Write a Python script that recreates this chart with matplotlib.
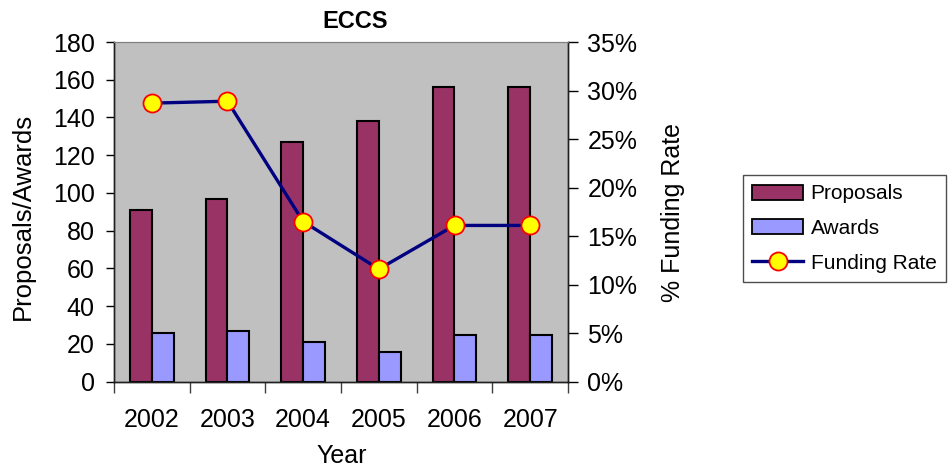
import matplotlib
matplotlib.use("Agg")
import matplotlib.pyplot as plt
import numpy as np
from matplotlib.ticker import FuncFormatter, FixedLocator
from matplotlib.lines import Line2D
from matplotlib.patches import Patch

plt.rcParams['font.family'] = ['Liberation Sans', 'DejaVu Sans']

years = ["2002", "2003", "2004", "2005", "2006", "2007"]
proposals = [91, 97, 127, 138, 156, 156]
awards = [26, 27, 21, 16, 25, 25]
funding_rate = [28.7, 28.9, 16.5, 11.6, 16.1, 16.1]

W, H = 953, 471
fig = plt.figure(figsize=(W / 100, H / 100), dpi=100)
L, R, T, B = 114, 568, 42, 381.7
ax = fig.add_axes([L / W, 1 - B / H, (R - L) / W, (B - T) / H])
ax.set_facecolor("#C0C0C0")

x = np.arange(len(years))
bw = 0.29
ax.bar(x - bw / 2, proposals, bw, color="#993366", edgecolor="black", linewidth=1.5, zorder=2)
ax.bar(x + bw / 2, awards, bw, color="#9999FF", edgecolor="black", linewidth=1.5, zorder=2)
ax.set_xlim(-0.5, len(years) - 0.5)
ax.set_ylim(0, 180)
ax.set_yticks(np.arange(0, 181, 20))
ax.set_xticks(x)
ax.set_xticklabels(years)
ax.xaxis.set_minor_locator(FixedLocator(np.arange(-0.5, len(years), 1.0)))
ax.tick_params(axis="x", which="major", length=0, pad=19, labelsize=18)
ax.tick_params(axis="x", which="minor", length=8, width=1, direction="out", color="#404040")
ax.tick_params(axis="y", length=6, width=1, direction="out", pad=8, labelsize=18)

ax2 = ax.twinx()
ax2.plot(x, funding_rate, color="#000080", linewidth=2.4, marker="o", markersize=13,
         markerfacecolor="#FFFF00", markeredgecolor="#FF0000", markeredgewidth=1.3, zorder=3)
ax2.set_ylim(0, 35)
ax2.set_yticks(np.arange(0, 36, 5))
ax2.yaxis.set_major_formatter(FuncFormatter(lambda v, p: f"{int(round(v))}%"))
ax2.tick_params(axis="y", length=7, width=1, direction="out", pad=7, labelsize=18)

for a in (ax, ax2):
    a.spines["top"].set_color("#808080")
    for s in ("left", "right", "bottom"):
        a.spines[s].set_color("#202020")
        a.spines[s].set_linewidth(1.0)

fig.text(355 / W, 1 - 21.7 / H, "ECCS", ha="center", va="center", fontsize=17, fontweight="bold")
fig.text(23 / W, 1 - 216 / H, "Proposals/Awards", rotation=90, ha="center", va="center", fontsize=18.5)
fig.text(673 / W, 1 - 212 / H, "% Funding Rate", rotation=90, ha="center", va="center", fontsize=18)
fig.text(342 / W, 1 - 463 / H, "Year", ha="center", va="baseline", fontsize=18)

handles = [
    Patch(facecolor="#993366", edgecolor="black", linewidth=1.3),
    Patch(facecolor="#9999FF", edgecolor="black", linewidth=1.3),
    Line2D([], [], color="#000080", linewidth=2.4, marker="o", markersize=13,
           markerfacecolor="#FFFF00", markeredgecolor="#FF0000", markeredgewidth=1.3),
]
leg = fig.legend(handles, ["Proposals", "Awards", "Funding Rate"], loc="center left",
                 bbox_to_anchor=(743 / W, 1 - 228.5 / H), fontsize=15, frameon=True,
                 fancybox=False, edgecolor="#202020", handlelength=2.45, handleheight=0.72,
                 handletextpad=0.35, labelspacing=0.75, borderpad=0.45, borderaxespad=0)
leg.get_frame().set_linewidth(1.0)

fig.savefig("out.png", dpi=100)
